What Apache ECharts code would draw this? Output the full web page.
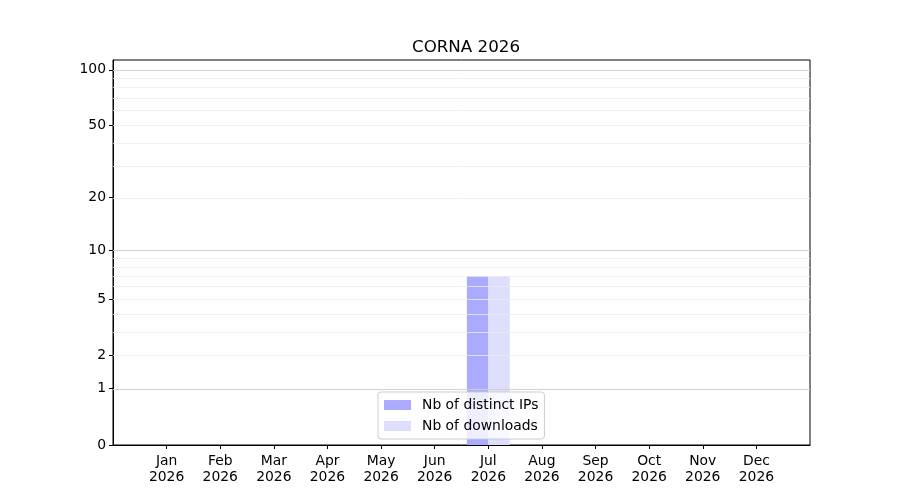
<!DOCTYPE html>
<html>
<head>
<meta charset="utf-8">
<script src="https://cdn.jsdelivr.net/npm/echarts@6/dist/echarts.min.js"></script>
<style>
  html, body { margin: 0; padding: 0; background: #fff; }
  #chart { width: 900px; height: 500px; }
</style>
</head>
<body>
<div id="chart"></div>
<script>
// data
var months = ['Jan', 'Feb', 'Mar', 'Apr', 'May', 'Jun', 'Jul', 'Aug', 'Sep', 'Oct', 'Nov', 'Dec'];
var year = '2026';
var distinctIps = [0, 0, 0, 0, 0, 0, 7, 0, 0, 0, 0, 0];
var downloads = [0, 0, 0, 0, 0, 0, 7, 0, 0, 0, 0, 0];
var yTicks = [0, 1, 2, 5, 10, 20, 50, 100];
var majorGrid = [1, 10, 100];
var minorGrid = [2, 3, 4, 5, 6, 7, 8, 9, 20, 30, 40, 50, 60, 70, 80, 90];
var yTop = 113;

// y scale is log10(1 + v)
function tr(v) { return Math.log10(1 + v); }
function untr(v) { return Math.round(Math.pow(10, v) - 1); }

var chart = echarts.init(document.getElementById('chart'));

function barSeries(name, values, offset, color) {
    return {
        name: name,
        type: 'custom',
        z: 3,
        itemStyle: { color: color },
        data: values.map(function (v, i) { return [i, tr(v)]; }),
        renderItem: function (params, api) {
            var x = api.value(0), y = api.value(1);
            var p0 = api.coord([x + offset, y]);
            var p1 = api.coord([x + offset + 0.4, 0]);
            return {
                type: 'rect',
                shape: { x: p0[0], y: p0[1], width: p1[0] - p0[0], height: p1[1] - p0[1] },
                style: { fill: color }
            };
        }
    };
}

var gridLines = [];
minorGrid.forEach(function (v) {
    gridLines.push({ yAxis: tr(v), lineStyle: { color: '#ececec', width: 0.8, type: 'solid' } });
});
majorGrid.forEach(function (v) {
    gridLines.push({ yAxis: tr(v), lineStyle: { color: '#cfcfcf', width: 1, type: 'solid' } });
});

var labelFont = { color: '#000', fontSize: 13.9, fontFamily: 'DejaVu Sans' };

var option = {
    animation: false,
    title: {
        text: 'CORNA ' + year,
        left: 461, top: 34,
        textAlign: 'center',
        textStyle: { fontFamily: 'DejaVu Sans', fontSize: 16.7, fontWeight: 'normal', color: '#000' }
    },
    grid: { left: 113, right: 90, top: 60, bottom: 55, show: true, borderColor: '#000', borderWidth: 1, backgroundColor: 'transparent' },
    legend: {
        orient: 'vertical',
        left: 378, top: 392,
        itemWidth: 27, itemHeight: 10, itemGap: 7,
        padding: [6, 6, 6, 6],
        icon: 'rect',
        backgroundColor: 'rgba(255,255,255,0.8)',
        borderColor: '#cccccc', borderWidth: 1, borderRadius: 3,
        textStyle: { fontFamily: 'DejaVu Sans', fontSize: 13.9, color: '#000', padding: [0, 0, 0, 6] },
        data: ['Nb of distinct IPs', 'Nb of downloads']
    },
    xAxis: {
        type: 'value',
        min: -1, max: 12,
        splitLine: { show: false },
        axisLine: { show: true, onZero: false, lineStyle: { color: '#000' } },
        axisTick: { show: true, length: 4, lineStyle: { color: '#000' }, customValues: months.map(function (m, i) { return i; }) },
        axisLabel: Object.assign({
            margin: 8, lineHeight: 16,
            customValues: months.map(function (m, i) { return i; }),
            formatter: function (v) { return months[v] + '\n' + year; }
        }, labelFont)
    },
    yAxis: {
        type: 'value',
        min: 0, max: tr(yTop),
        splitLine: { show: false },
        axisLine: { show: true, onZero: false, lineStyle: { color: '#000' } },
        axisTick: { show: true, length: 4, lineStyle: { color: '#000' }, customValues: yTicks.map(tr) },
        axisLabel: Object.assign({
            margin: 7,
            customValues: yTicks.map(tr),
            formatter: function (v) { return String(untr(v)); }
        }, labelFont)
    },
    series: [
        {
            name: 'grid',
            type: 'line',
            z: 1,
            data: [],
            silent: true,
            markLine: { silent: true, symbol: 'none', label: { show: false }, data: gridLines }
        },
        barSeries('Nb of distinct IPs', distinctIps, -0.4, '#aaaaff'),
        barSeries('Nb of downloads', downloads, 0, '#ddddfd')
    ]
};

chart.setOption(option);
</script>
</body>
</html>
